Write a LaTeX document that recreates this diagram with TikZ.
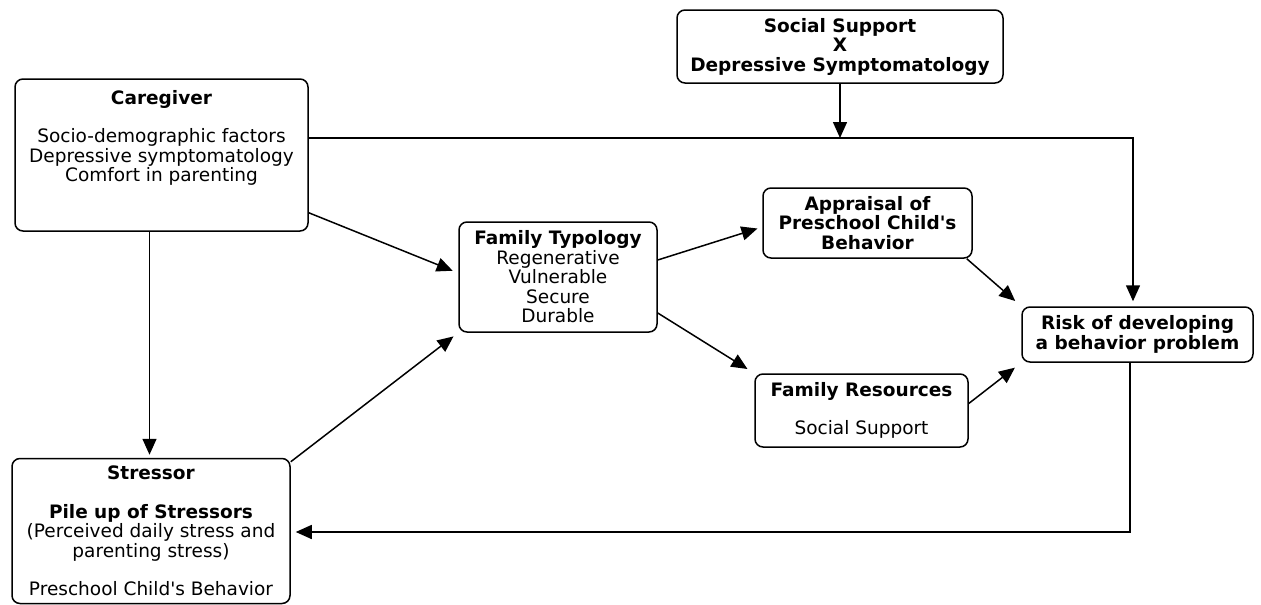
\documentclass[tikz,border=0pt]{standalone}
\usepackage{fontspec}
\setmainfont{DejaVu Sans}
\usetikzlibrary{arrows.meta}

\begin{document}
\begin{tikzpicture}[x=1pt,y=-1pt,line width=1.5pt,draw=black]
	\tikzstyle{box}=[draw,rounded corners=8pt,align=center,inner sep=0pt,font=\fontsize{18.5}{19.5}\selectfont]
	\tikzstyle{arr}=[-{Triangle[length=16pt,width=14pt]}]
	\useasboundingbox (0,0) rectangle (1261,605);

	% left column
	\node[box,minimum width=293pt,minimum height=152pt] (caregiver) at (161.5,155)
		{\textbf{Caregiver}\\[19pt]Socio-demographic factors\\Depressive symptomatology\\Comfort in parenting\\[19pt]\mbox{}};
	\node[box,minimum width=278pt,minimum height=145pt] (stressor) at (151,531)
		{\textbf{Stressor}\\[19pt]\textbf{Pile up of Stressors}\\(Perceived daily stress and\\parenting stress)\\[19pt]Preschool Child\textquotesingle s Behavior};

	% middle
	\node[box,minimum width=198pt,minimum height=110pt] (typology) at (558,277)
		{\textbf{Family Typology}\\Regenerative\\Vulnerable\\Secure\\Durable};
	\node[box,minimum width=209pt,minimum height=70pt] (appraisal) at (867.5,223)
		{\textbf{Appraisal of}\\\textbf{Preschool Child\textquotesingle s}\\\textbf{Behavior}};
	\node[box,minimum width=213pt,minimum height=73pt] (resources) at (861.5,410.5)
		{\textbf{Family Resources}\\[19pt]Social Support};

	% right
	\node[box,minimum width=326pt,minimum height=73pt] (ssxds) at (840,46.5)
		{\textbf{Social Support}\\\textbf{X}\\\textbf{Depressive Symptomatology}};
	\node[box,minimum width=231pt,minimum height=55pt] (risk) at (1137.5,334.5)
		{\textbf{Risk of developing}\\\textbf{a behavior problem}};

	\coordinate (top-line) at ([yshift=17pt]caregiver.east);

	% connectors
	\draw[arr,shorten >=3pt] ([xshift=-12pt]caregiver.south) -- ([xshift=-12pt]caregiver.south |- stressor.north);
	\draw[arr,shorten >=6pt] ([yshift=19pt]caregiver.south east) -- ([yshift=4pt]typology.west);
	\draw[arr,shorten >=6pt] ([yshift=-4pt]stressor.north east) -- (typology.south west);
	\draw[arr,shorten >=5pt] ([yshift=17pt]typology.east) -- ([yshift=-4pt]appraisal.west);
	\draw[arr,shorten >=8pt] ([yshift=-36pt]typology.east) -- (resources.north west);
	\draw[arr,shorten >=8pt] ([xshift=-6pt]appraisal.south east) -- (risk.north west);
	\draw[arr,shorten >=8pt] ([yshift=7pt]resources.east) -- (risk.south west);
	\draw[arr,shorten >=5pt] (top-line) -| ([xshift=-4.5pt]risk.north);
	\draw[arr] (ssxds.south) -- (ssxds.south |- top-line);
	\draw[arr,shorten >=5pt] ([xshift=-7.5pt]risk.south) |- ([yshift=-1pt]stressor.east);
\end{tikzpicture}
\end{document}
